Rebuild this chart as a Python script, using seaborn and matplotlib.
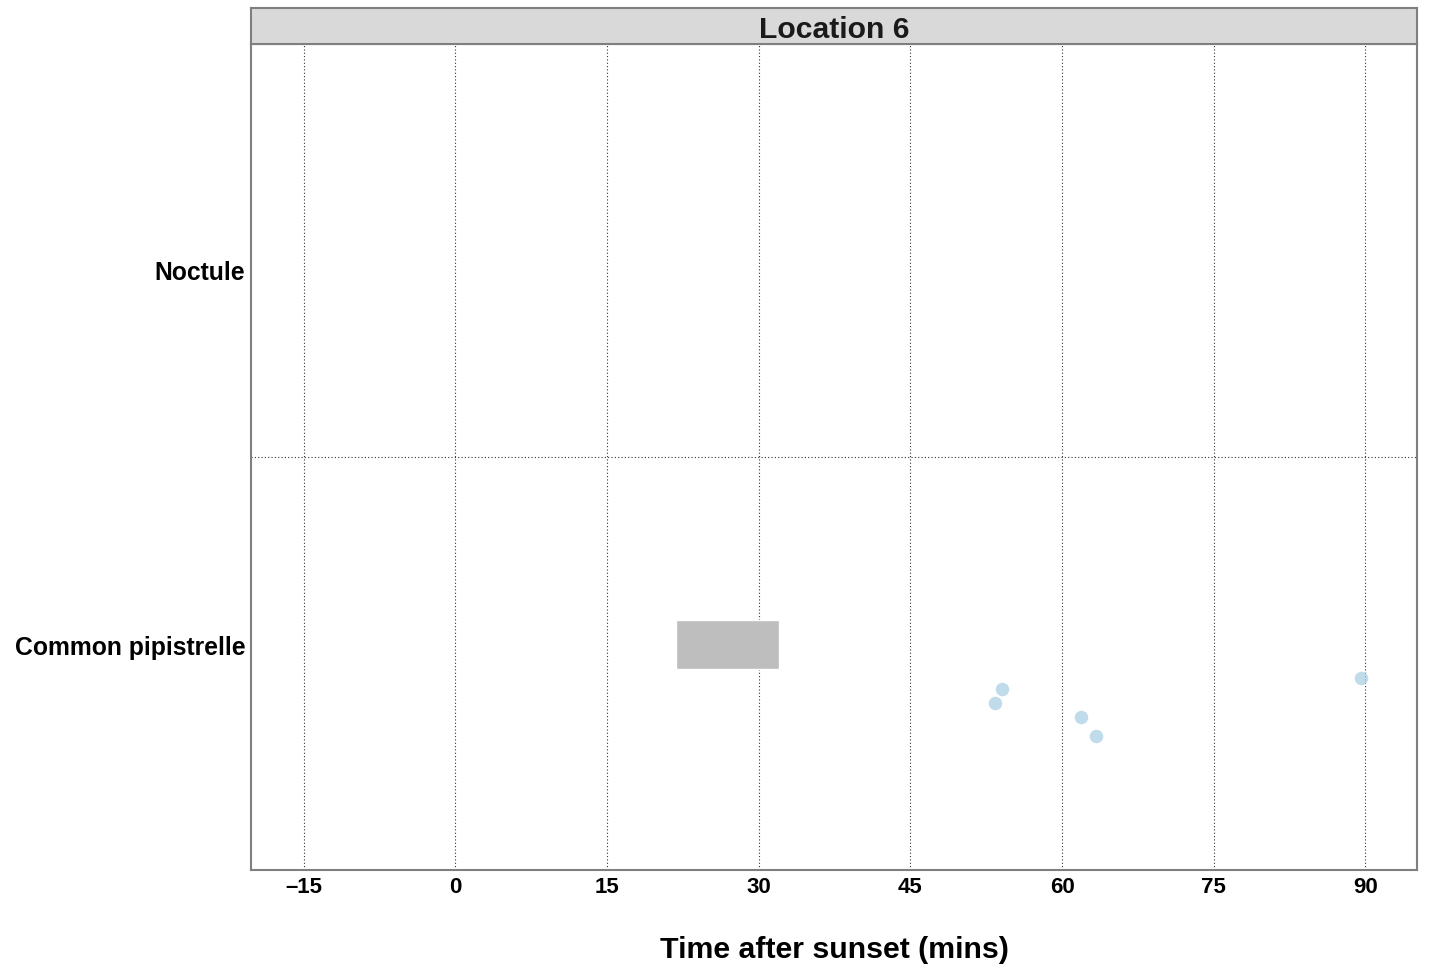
import matplotlib
matplotlib.use("Agg")
import matplotlib.pyplot as plt
import seaborn as sns
import pandas as pd

# species shown on the y axis (bottom to top)
species = ["Common pipistrelle", "Noctule"]

# individual passes: time after sunset (mins) and vertical offset within row
pass_species = ["Common pipistrelle"] * 5
pass_time = [54.1, 53.4, 61.9, 63.4, 89.6]
pass_offset = [-0.117, -0.155, -0.193, -0.244, -0.089]

# emergence window (grey box)
box_species = "Common pipistrelle"
box_start = 21.85
box_end = 32.0

x_ticks = [-15, 0, 15, 30, 45, 60, 75, 90]
panel_title = "Location 6"

sns.set_theme(style="white")
plt.rcParams["font.family"] = ["Liberation Sans", "DejaVu Sans"]
plt.rcParams["font.weight"] = "bold"
plt.rcParams["text.color"] = "black"
plt.rcParams["xtick.color"] = "black"
plt.rcParams["ytick.color"] = "black"
plt.rcParams["axes.labelcolor"] = "black"

fig = plt.figure(figsize=(14.29, 9.70), dpi=100)
ax = fig.add_axes([0.1756, 0.1021, 0.8160, 0.8515])

code = {s: i for i, s in enumerate(species)}
df = pd.DataFrame({
    "time": pass_time,
    "y": [code[s] + o for s, o in zip(pass_species, pass_offset)],
})

# grey box for the emergence window
ax.barh(code[box_species], box_end - box_start, left=box_start, height=0.13,
        color="#bebebe", zorder=2)

sns.scatterplot(data=df, x="time", y="y", ax=ax, color="#a6cee3", alpha=0.7,
                s=95, linewidth=0, zorder=3, legend=False)

ax.set_xlim(-20.2, 95.1)
ax.set_ylim(-0.6, 1.6)
ax.set_xticks(x_ticks)
ax.set_xticklabels([str(t).replace("-", "\u2013") for t in x_ticks],
                   fontsize=16, fontweight="bold")
ax.set_yticks(range(len(species)))
ax.set_yticklabels(species, fontsize=17.8, fontweight="bold")
ax.tick_params(axis="both", length=0, pad=4)

for t in x_ticks:
    ax.axvline(t, color="#333333", linestyle=(0, (1, 2)), linewidth=0.8, zorder=1)
ax.axhline(0.5, color="#333333", linestyle=(0, (1, 2)), linewidth=0.8, zorder=1)

for sp in ax.spines.values():
    sp.set_color("#7f7f7f")
    sp.set_linewidth(1.5)

ax.set_xlabel("Time after sunset (mins)", fontsize=21.8, fontweight="bold", labelpad=28)
ax.set_ylabel("")

# facet strip on top
strip = fig.add_axes([0.1756, 0.9536, 0.8160, 0.0371])
strip.set_facecolor("#d9d9d9")
strip.set_xticks([])
strip.set_yticks([])
for sp in strip.spines.values():
    sp.set_color("#7f7f7f")
    sp.set_linewidth(1.5)
strip.text(0.5, 0.42, panel_title, ha="center", va="center", fontsize=21.7,
           fontweight="bold", color="#1a1a1a", transform=strip.transAxes)

fig.savefig("out.png", dpi=100)
